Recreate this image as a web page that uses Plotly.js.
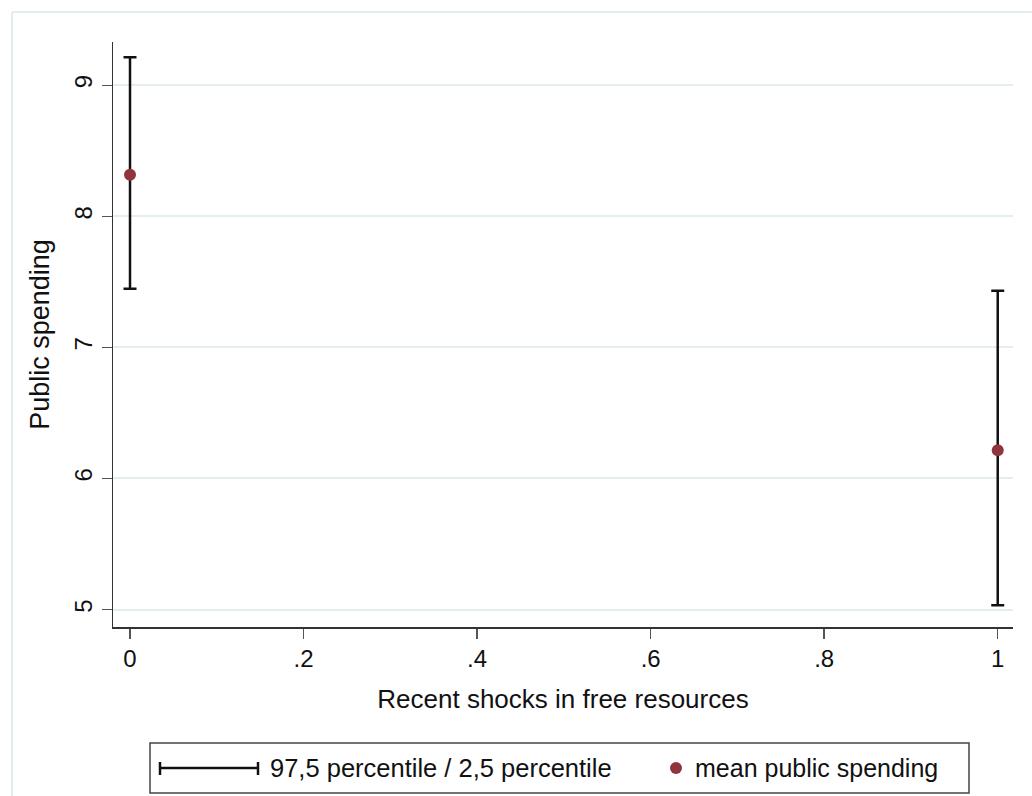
<!DOCTYPE html>
<html>
<head>
<meta charset="utf-8">
<script src="https://cdn.plot.ly/plotly-3.0.1.min.js"></script>
<style>html,body{margin:0;padding:0;background:#fff;}#chart{width:1032px;height:796px;}</style>
</head>
<body>
<div id="chart"></div>
<script>
// ---- data ----
var shocks = [0, 1];
var meanSpending = [8.318, 6.216];
var pct975 = [9.214, 7.433];
var pct025 = [7.448, 5.033];
var xTickVals = [0, 0.2, 0.4, 0.6, 0.8, 1];
var xTickText = ['0', '.2', '.4', '.6', '.8', '1'];
var yTickVals = [5, 6, 7, 8, 9];
var legendLabels = ['97,5 percentile / 2,5 percentile', 'mean public spending'];

// ---- layout helpers ----
var W = 1032, H = 796;
var M = {l: 113, r: 19, t: 42, b: 169};
var PW = W - M.l - M.r, PH = H - M.t - M.b;
function px(x) { return (x - M.l) / PW; }
function py(y) { return (H - M.b - y) / PH; }

var FONT = 'Liberation Sans, Arial, sans-serif';
var maroon = '#90353b';

var errPlus = pct975.map(function (v, i) { return v - meanSpending[i]; });
var errMinus = pct025.map(function (v, i) { return meanSpending[i] - v; });

var traces = [{
  type: 'scatter',
  mode: 'markers',
  x: shocks,
  y: meanSpending,
  marker: {color: maroon, size: 12},
  error_y: {type: 'data', symmetric: false, array: errPlus, arrayminus: errMinus,
            color: '#111', thickness: 2.5, width: 6.5},
  showlegend: false,
  hoverinfo: 'x+y'
}];

var shapes = [
  // outer graph-region frame (cut off at right and bottom)
  {type: 'line', xref: 'paper', yref: 'paper', x0: px(12), x1: px(1040), y0: py(12), y1: py(12),
   line: {color: '#e3edef', width: 2}},
  {type: 'line', xref: 'paper', yref: 'paper', x0: px(12), x1: px(12), y0: py(12), y1: py(810),
   line: {color: '#e3edef', width: 2}},
  // legend box
  {type: 'rect', xref: 'paper', yref: 'paper', x0: px(150), x1: px(969), y0: py(743), y1: py(793),
   line: {color: '#444', width: 1.5}, fillcolor: '#fff'},
  // legend rcap symbol
  {type: 'line', xref: 'paper', yref: 'paper', x0: px(160), x1: px(258), y0: py(768), y1: py(768),
   line: {color: '#111', width: 2.5}},
  {type: 'line', xref: 'paper', yref: 'paper', x0: px(160), x1: px(160), y0: py(762), y1: py(775),
   line: {color: '#111', width: 2.5}},
  {type: 'line', xref: 'paper', yref: 'paper', x0: px(258), x1: px(258), y0: py(762), y1: py(775),
   line: {color: '#111', width: 2.5}},
  // legend marker symbol
  {type: 'circle', xref: 'paper', yref: 'paper', x0: px(670), x1: px(682), y0: py(762), y1: py(774),
   line: {color: maroon, width: 0}, fillcolor: maroon}
];

var annotations = [
  {xref: 'paper', yref: 'paper', x: px(268), y: py(768), xanchor: 'left', yanchor: 'middle',
   text: legendLabels[0], showarrow: false, font: {family: FONT, size: 25.5, color: '#111'}},
  {xref: 'paper', yref: 'paper', x: px(693), y: py(768), xanchor: 'left', yanchor: 'middle',
   text: legendLabels[1], showarrow: false, font: {family: FONT, size: 25, color: '#111'}}
];

var layout = {
  width: W, height: H,
  margin: M,
  paper_bgcolor: '#fff', plot_bgcolor: '#fff',
  font: {family: FONT, size: 24, color: '#111'},
  showlegend: false,
  xaxis: {
    range: [-0.0196, 1.0176],
    tickvals: xTickVals, ticktext: xTickText,
    ticks: 'outside', ticklen: 10, tickwidth: 1.5, tickcolor: '#555',
    showline: true, linecolor: '#333', linewidth: 1.5,
    showgrid: false, zeroline: false,
    tickfont: {family: FONT, size: 24, color: '#111'},
    title: {text: 'Recent shocks in free resources', font: {family: FONT, size: 26, color: '#111'}, standoff: 18}
  },
  yaxis: {
    range: [4.867, 9.33],
    tickvals: yTickVals,
    tickangle: -90,
    ticks: 'outside', ticklen: 10, tickwidth: 1.5, tickcolor: '#555',
    showline: true, linecolor: '#333', linewidth: 1.5,
    showgrid: true, gridcolor: '#e4eef0', gridwidth: 2, zeroline: false,
    tickfont: {family: FONT, size: 24, color: '#111'},
    title: {text: 'Public spending', font: {family: FONT, size: 27, color: '#111'}, standoff: 12}
  },
  shapes: shapes,
  annotations: annotations
};

Plotly.newPlot('chart', traces, layout, {displayModeBar: false, staticPlot: true});
</script>
</body>
</html>
